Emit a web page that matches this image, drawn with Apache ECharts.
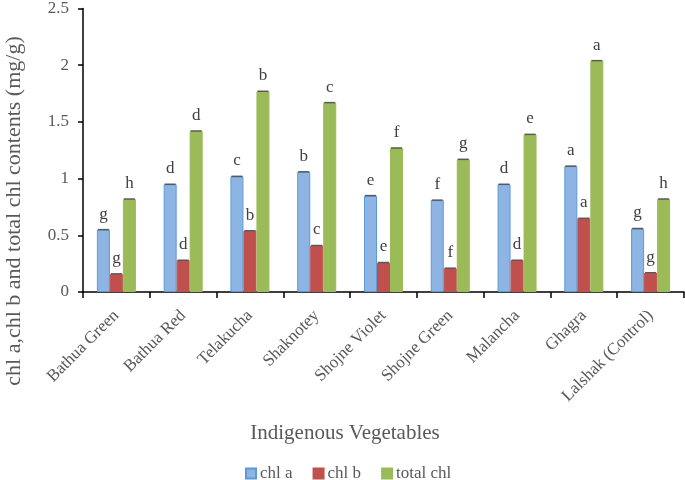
<!DOCTYPE html>
<html><head><meta charset="utf-8">
<script src="https://cdn.jsdelivr.net/npm/echarts@6/dist/echarts.min.js"></script>
<style>html,body{margin:0;padding:0;background:#fff}#c{width:685px;height:480px}</style>
</head><body><div id="c"></div>
<script>
var categories = ['Bathua Green','Bathua Red','Telakucha','Shaknotey','Shojne Violet','Shojne Green','Malancha','Ghagra','Lalshak (Control)'];
var chlA = [0.55,0.95,1.02,1.06,0.85,0.81,0.95,1.11,0.56];
var chlB = [0.16,0.28,0.54,0.41,0.26,0.21,0.28,0.65,0.17];
var totalChl = [0.82,1.42,1.77,1.67,1.27,1.17,1.39,2.04,0.82];
var lettersA = ['g','d','c','b','e','f','d','a','g'];
var lettersB = ['g','d','b','c','e','f','d','a','g'];
var lettersT = ['h','d','b','c','f','g','e','a','h'];
var seriesNames = ['chl a','chl b','total chl'];
var yTicks = [0,0.5,1,1.5,2,2.5];

var FONT = 'Liberation Serif';
var TXT = '#595959';
var BW = 13;

function barSeries(name, data, letters, color, border) {
  return {
    name: name, type: 'bar', data: data, barWidth: BW, barGap: '0%',
    itemStyle: {color: color, borderColor: border, borderWidth: 1},
    label: {show: true, position: 'top', distance: 7, fontFamily: FONT, fontSize: 17, color: '#404040',
      formatter: function(p){ return letters[p.dataIndex]; }}
  };
}
function capSeries(data, k) {
  return {
    type: 'custom', silent: true, z: 5,
    data: data.map(function(v,i){ return [i, v]; }),
    encode: {x: 0, y: 1},
    renderItem: function(params, api) {
      var p = api.coord([api.value(0), api.value(1)]);
      var cx = p[0] + (k - 1) * BW;
      return {type: 'line', shape: {x1: cx - 5.5, y1: p[1], x2: cx + 5.5, y2: p[1]},
        style: {stroke: '#595959', lineWidth: 1.5}};
    }
  };
}

var chart = echarts.init(document.getElementById('c'));
chart.setOption({
  animation: false,
  grid: {left: 83, right: 1, top: 4, bottom: 188, containLabel: false},
  legend: {top: 465, left: 245, padding: 0, itemWidth: 10, itemHeight: 10, itemGap: 20, icon: 'rect',
    textStyle: {fontFamily: FONT, fontSize: 17, color: TXT, padding: [0, 0, 0, -1]},
    data: seriesNames},
  graphic: [
    {type: 'text', x: 14, y: 211, rotation: Math.PI/2,
      style: {text: 'chl a,chl b and total chl contents (mg/g)', fontFamily: FONT, fontSize: 22, fill: TXT, align: 'center', verticalAlign: 'middle'}},
    {type: 'text', x: 345, y: 433,
      style: {text: 'Indigenous Vegetables', fontFamily: FONT, fontSize: 21, fill: TXT, align: 'center', verticalAlign: 'middle'}}
  ],
  xAxis: {type: 'category', data: categories,
    axisLine: {lineStyle: {color: '#000', width: 1.5}},
    axisTick: {show: true, length: 6, lineStyle: {color: '#000', width: 1.5}},
    axisLabel: {rotate: 45, fontFamily: FONT, fontSize: 17, color: TXT, margin: 21, interval: 0}},
  yAxis: {type: 'value', min: yTicks[0], max: yTicks[yTicks.length-1], interval: 0.5,
    splitLine: {show: false},
    axisLine: {show: true, lineStyle: {color: '#000', width: 1.5}},
    axisTick: {show: true, length: 5, lineStyle: {color: '#000', width: 1.5}},
    axisLabel: {fontFamily: FONT, fontSize: 17, color: TXT, margin: 14}},
  series: [
    barSeries(seriesNames[0], chlA, lettersA, '#8db4e2', '#5b9bd5'),
    barSeries(seriesNames[1], chlB, lettersB, '#c0504d', '#c0504d'),
    barSeries(seriesNames[2], totalChl, lettersT, '#9bbb59', '#9bbb59'),
    capSeries(chlA, 0), capSeries(chlB, 1), capSeries(totalChl, 2)
  ]
});
</script></body></html>
